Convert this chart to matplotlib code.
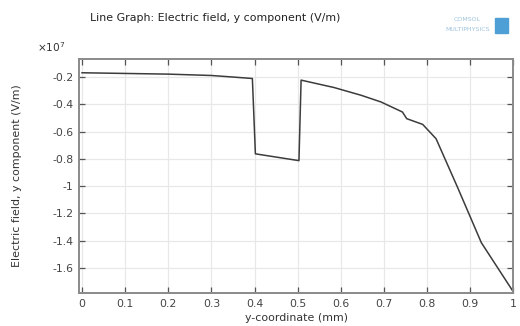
import numpy as np
import matplotlib
matplotlib.use("Agg")
import matplotlib.pyplot as plt

# y-coordinate (mm) and Ey (x1e7 V/m)
y_coord = [0.0, 0.1, 0.2, 0.3, 0.344, 0.395, 0.402, 0.503, 0.508,
           0.584, 0.647, 0.693, 0.743, 0.753, 0.79, 0.821, 0.871, 0.926, 1.0]
e_y = [-0.168, -0.173, -0.178, -0.188, -0.198, -0.21, -0.763, -0.813, -0.222,
       -0.276, -0.333, -0.382, -0.456, -0.505, -0.547, -0.652, -1.01, -1.415, -1.775]

x_ticks = [0, 0.1, 0.2, 0.3, 0.4, 0.5, 0.6, 0.7, 0.8, 0.9, 1]
y_ticks = [-0.2, -0.4, -0.6, -0.8, -1.0, -1.2, -1.4, -1.6]

plt.rcParams['font.family'] = ['DejaVu Sans']
fig = plt.figure(figsize=(5.2, 3.26), dpi=100)
ax = fig.add_axes([0.152, 0.101, 0.835, 0.718])

ax.plot(y_coord, e_y, color='#3c3c3c', lw=1.1)

ax.set_xlim(-0.007, 1.0)
ax.set_ylim(-1.785, -0.067)
ax.set_xticks(x_ticks)
ax.set_xticklabels(['%g' % t for t in x_ticks])
ax.set_yticks(y_ticks)
ax.set_yticklabels(['%g' % t for t in y_ticks])
ax.grid(True, color='#e8e8e8', lw=0.9)
ax.set_axisbelow(True)

ax.tick_params(direction='in', length=4, width=0.9, color='#555555',
               labelsize=7.8, labelcolor='#444444', top=True, right=True, pad=4)
for s in ax.spines.values():
    s.set_color('#8a8a8a')
    s.set_linewidth(1.4)

ax.set_xlabel('y-coordinate (mm)', fontsize=7.9, color='#333333', labelpad=3)
ax.set_ylabel('Electric field, y component (V/m)', fontsize=7.9, color='#333333', labelpad=22)

fig.text(0.072, 0.84, r'$\times10^{7}$', fontsize=7.6, color='#333333')
fig.text(0.173, 0.935, 'Line Graph: Electric field, y component (V/m)',
         fontsize=7.9, color='#222222')
fig.text(0.925, 0.935, 'COMSOL', fontsize=4.5, color='#9fc3dc', ha='right')
fig.text(0.943, 0.905, 'MULTIPHYSICS', fontsize=4.5, color='#9fc3dc', ha='right')
fig.patches.append(plt.Rectangle((0.952, 0.9), 0.025, 0.045, transform=fig.transFigure,
                                 color='#4d9fd6', figure=fig))

fig.savefig('out.png', dpi=100)
